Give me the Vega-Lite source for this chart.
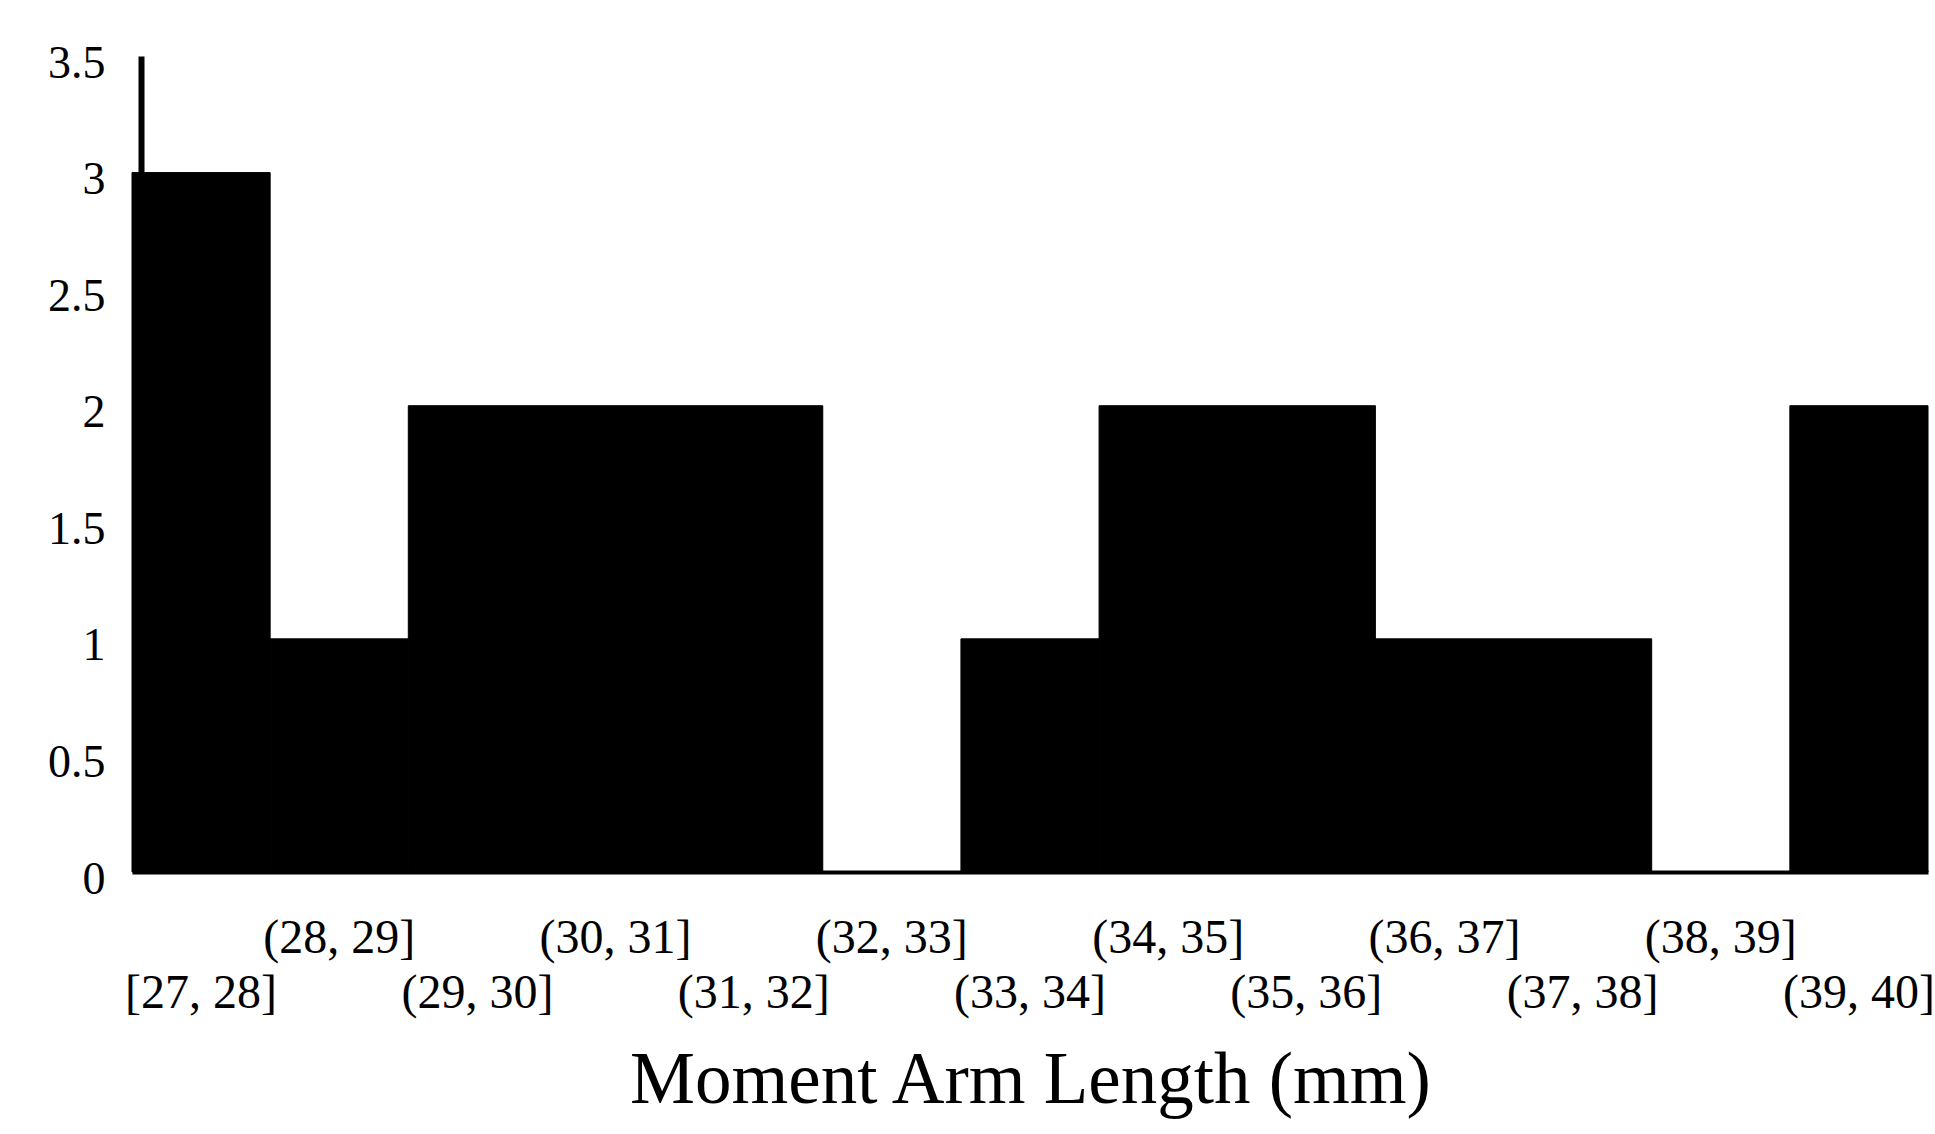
{
  "$schema": "https://vega.github.io/schema/vega-lite/v6.json",
  "autosize": {"type": "none"},
  "padding": {"left": 132, "top": 56, "right": 7, "bottom": 262},
  "width": 1796,
  "height": 816,
  "background": "white",
  "data": {
    "values": [
      {"bin": "[27, 28]", "count": 3},
      {"bin": "(28, 29]", "count": 1},
      {"bin": "(29, 30]", "count": 2},
      {"bin": "(30, 31]", "count": 2},
      {"bin": "(31, 32]", "count": 2},
      {"bin": "(32, 33]", "count": 0},
      {"bin": "(33, 34]", "count": 1},
      {"bin": "(34, 35]", "count": 2},
      {"bin": "(35, 36]", "count": 2},
      {"bin": "(36, 37]", "count": 1},
      {"bin": "(37, 38]", "count": 1},
      {"bin": "(38, 39]", "count": 0},
      {"bin": "(39, 40]", "count": 2}
    ]
  },
  "mark": {"type": "bar", "color": "black", "stroke": "black", "strokeWidth": 1},
  "encoding": {
    "x": {
      "field": "bin",
      "type": "ordinal",
      "sort": null,
      "scale": {"paddingInner": 0, "paddingOuter": 0},
      "axis": {
        "title": "Moment Arm Length (mm)",
        "titleFont": "Liberation Serif",
        "titleFontSize": 73,
        "titleFontWeight": "normal",
        "titleColor": "black",
        "titleBaseline": "alphabetic",
        "titleY": 230,
        "labelAngle": 0,
        "labelFont": "Liberation Serif",
        "labelFontSize": 48,
        "labelColor": "black",
        "labelBaseline": "middle",
        "labelOverlap": false,
        "labelLimit": 0,
        "labelPadding": {
          "condition": {
            "test": "indexof(['(28, 29]','(30, 31]','(32, 33]','(34, 35]','(36, 37]','(38, 39]'], datum.value) >= 0",
            "value": 66
          },
          "value": 121
        },
        "ticks": false,
        "tickSize": 0,
        "domain": true,
        "domainColor": "black",
        "domainWidth": 4,
        "grid": false
      }
    },
    "y": {
      "field": "count",
      "type": "quantitative",
      "scale": {"domain": [0, 3.5], "nice": false},
      "axis": {
        "title": null,
        "values": [0, 0.5, 1, 1.5, 2, 2.5, 3, 3.5],
        "format": "~g",
        "labelFont": "Liberation Serif",
        "labelFontSize": 46,
        "labelColor": "black",
        "labelPadding": 36,
        "labelOffset": 7,
        "ticks": false,
        "tickSize": 0,
        "offset": -9,
        "domain": true,
        "domainColor": "black",
        "domainWidth": 6,
        "grid": false
      }
    }
  },
  "config": {"view": {"stroke": null}}
}
